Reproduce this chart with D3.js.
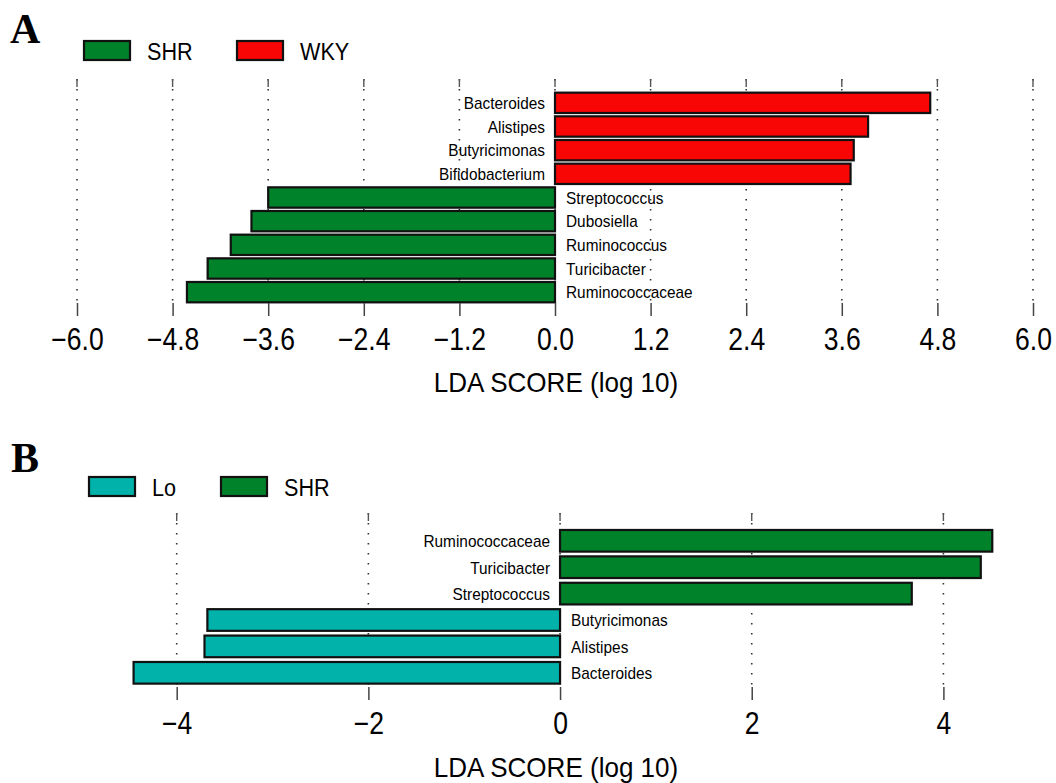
<!DOCTYPE html>
<html lang="en">
<head>
<meta charset="UTF-8">
<title>LDA Score</title>
<script src="https://cdnjs.cloudflare.com/ajax/libs/d3/7.8.5/d3.min.js"></script>
<style>
  body { margin: 0; background: #fff; }
  text { font-family: "Liberation Sans", Arial, sans-serif; fill: #000; }
  .letter { font-family: "Liberation Serif", "Times New Roman", serif; font-weight: bold; }
</style>
</head>
<body>
<script>
// Panel A data
const catsA = ['Bacteroides', 'Alistipes', 'Butyricimonas', 'Bifidobacterium',
  'Streptococcus', 'Dubosiella', 'Ruminococcus', 'Turicibacter', 'Ruminococcaceae'];
const ldaA = [4.71, 3.93, 3.75, 3.71, -3.60, -3.81, -4.07, -4.36, -4.62];
const groupsA = ['SHR', 'WKY'];          // [negative side, positive side]
const ticksA = [-6.0, -4.8, -3.6, -2.4, -1.2, 0.0, 1.2, 2.4, 3.6, 4.8, 6.0];

// Panel B data
const catsB = ['Ruminococcaceae', 'Turicibacter', 'Streptococcus',
  'Butyricimonas', 'Alistipes', 'Bacteroides'];
const ldaB = [4.51, 4.39, 3.67, -3.68, -3.71, -4.45];
const groupsB = ['Lo', 'SHR'];
const ticksB = [-4, -2, 0, 2, 4];

const groupColor = { SHR: '#00822a', WKY: '#f80505', Lo: '#00b2a9' };

const W = 1056, H = 783;
const svg = d3.select('body').append('svg').attr('width', W).attr('height', H);

// text in the source looks a bit narrow, so squeeze it horizontally
function squeezed(sel, x, y, sx) {
  return sel.attr('x', 0).attr('y', 0)
    .attr('transform', `translate(${x}, ${y}) scale(${sx}, 1)`);
}

function drawPanel(p) {
  const g = svg.append('g');

  const x = d3.scaleLinear().domain(p.domain).range(p.xRange);
  const y = d3.scaleBand().domain(p.cats).range(p.yRange)
    .paddingInner(p.pad).paddingOuter(p.pad / 2);
  const zero = x(0);

  // panel letter
  g.append('text').attr('class', 'letter')
    .attr('x', p.letterX).attr('y', p.letterY)
    .style('font-size', '42px').text(p.letter);

  // legend
  const leg = g.selectAll('.leg').data(p.groups).enter().append('g')
    .attr('transform', (d, i) => `translate(${p.legX[i]}, ${p.legY})`);
  leg.append('rect')
    .attr('width', 46).attr('height', 19)
    .attr('fill', d => groupColor[d])
    .attr('stroke', '#111').attr('stroke-width', 2.2);
  squeezed(leg.append('text'), 63, 19, 0.92)
    .style('font-size', '23.5px')
    .text(d => d);

  // dotted grid lines
  g.selectAll('.grid').data(p.ticks).enter().append('line')
    .attr('x1', d => x(d)).attr('x2', d => x(d))
    .attr('y1', p.gridTop).attr('y2', p.axisY)
    .attr('stroke', '#333').attr('stroke-width', 1.6)
    .attr('stroke-dasharray', '1.6,8.4');
  g.selectAll('.topTick').data(p.ticks).enter().append('line')
    .attr('x1', d => x(d)).attr('x2', d => x(d))
    .attr('y1', p.gridTop).attr('y2', p.gridTop + 8)
    .attr('stroke', '#555').attr('stroke-width', 1.4);

  // bars
  p.cats.forEach((c, i) => {
    const v = p.values[i];
    const grp = v < 0 ? p.groups[0] : p.groups[1];
    g.append('rect')
      .attr('x', Math.min(x(v), zero))
      .attr('y', y(c))
      .attr('width', Math.abs(x(v) - zero))
      .attr('height', y.bandwidth())
      .attr('fill', groupColor[grp])
      .attr('stroke', '#111').attr('stroke-width', 2.2);
    squeezed(g.append('text'), v < 0 ? zero + 11 : zero - 10,
      y(c) + y.bandwidth() / 2 + 6.3, 0.95)
      .attr('text-anchor', v < 0 ? 'start' : 'end')
      .style('font-size', '16.2px')
      .text(c);
  });

  // axis
  const axis = d3.axisBottom(x).tickValues(p.ticks).tickFormat(p.fmt)
    .tickSize(13).tickPadding(12);
  const ax = g.append('g')
    .attr('transform', `translate(0, ${p.axisY})`)
    .call(axis);
  ax.select('.domain').remove();
  ax.selectAll('.tick line').attr('stroke', '#444').attr('stroke-width', 1.5);
  ax.selectAll('.tick text')
    .attr('transform', 'scale(0.87, 1)')
    .style('font-family', '"Liberation Sans", Arial, sans-serif')
    .style('font-size', '30.5px').attr('fill', '#000');

  squeezed(g.append('text'), 556, p.titleY, 0.93)
    .attr('text-anchor', 'middle')
    .style('font-size', '28px')
    .text('LDA SCORE (log 10)');
}

drawPanel({
  letter: 'A', letterX: 10, letterY: 43,
  cats: catsA, values: ldaA, groups: groupsA, ticks: ticksA,
  domain: [-6, 6], xRange: [77, 1033],
  yRange: [91, 304], pad: 0.14,
  legX: [84, 237], legY: 41,
  gridTop: 79, axisY: 303, titleY: 392,
  fmt: d3.format('.1f')
});

drawPanel({
  letter: 'B', letterX: 11, letterY: 472,
  cats: catsB, values: ldaB, groups: groupsB, ticks: ticksB,
  domain: [-4, 4], xRange: [176.7, 943.4],
  yRange: [527.6, 686], pad: 0.18,
  legX: [89, 221], legY: 477,
  gridTop: 513, axisY: 687, titleY: 777,
  fmt: d3.format('d')
});
</script>
</body>
</html>
